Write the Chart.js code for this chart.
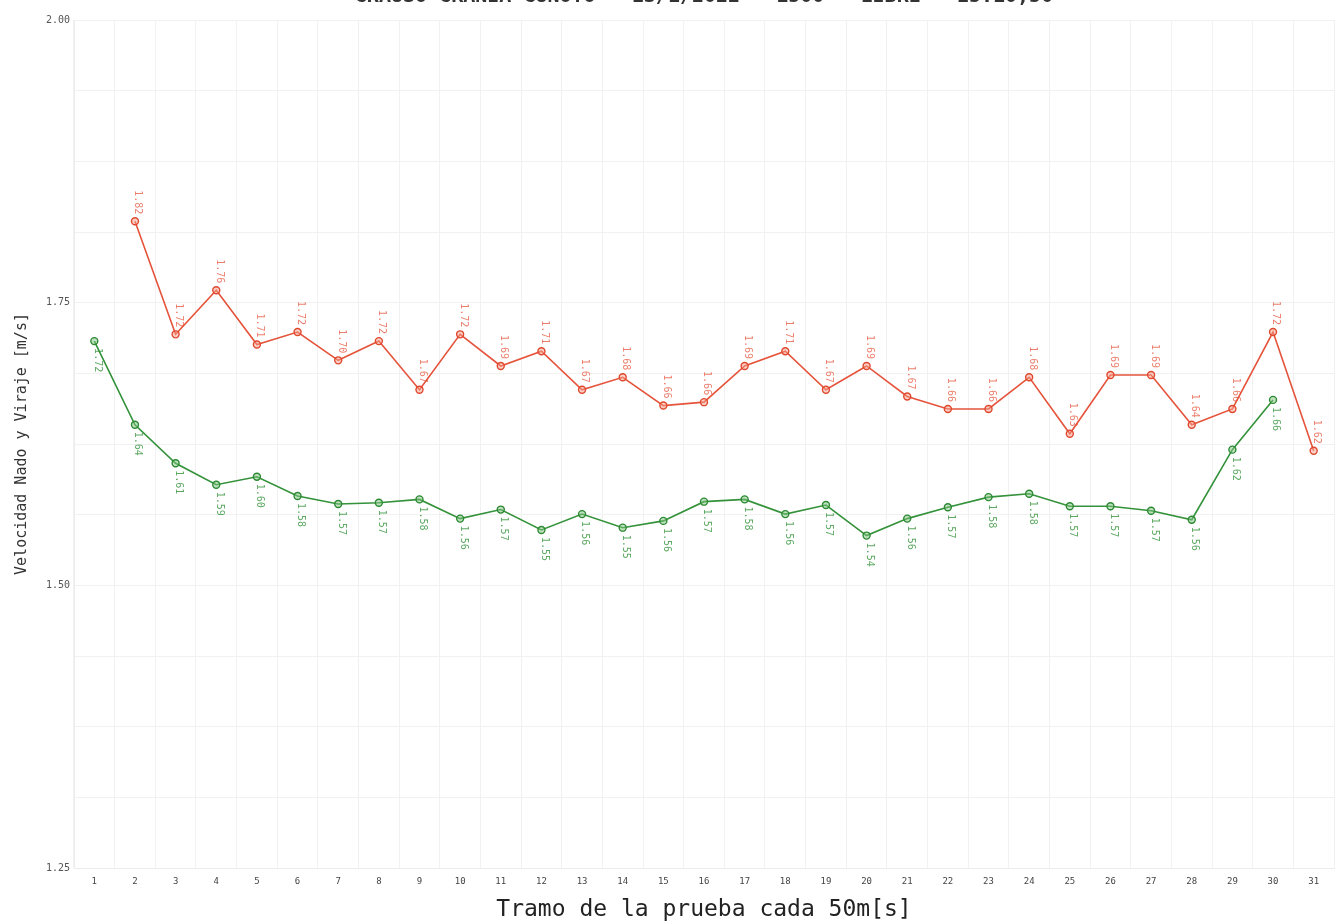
<!DOCTYPE html>
<html>
<head>
<meta charset="utf-8">
<script src="https://cdn.jsdelivr.net/npm/chart.js@4.4.0/dist/chart.umd.min.js"></script>
<style>
    body { margin: 0; background: #fff; }
    #wrap { width: 1344px; height: 922px; overflow: hidden; position: relative; }
    #chart { position: absolute; left: 0; top: -15px; }
</style>
</head>
<body>
<div id="wrap">
    <canvas id="chart" width="1344" height="937"></canvas>
</div>
<script>
// Chart data
const tramos = ['1','2','3','4','5','6','7','8','9','10','11','12','13','14','15','16',
    '17','18','19','20','21','22','23','24','25','26','27','28','29','30','31'];

const velViraje = [null, 1.822, 1.722, 1.761, 1.713, 1.724, 1.699, 1.716, 1.673, 1.722,
    1.694, 1.707, 1.673, 1.684, 1.659, 1.662, 1.694, 1.707, 1.673, 1.694, 1.667, 1.656,
    1.656, 1.684, 1.634, 1.686, 1.686, 1.642, 1.656, 1.724, 1.619];

const velNado = [1.716, 1.642, 1.608, 1.589, 1.596, 1.579, 1.572, 1.573, 1.576, 1.559,
    1.567, 1.549, 1.563, 1.551, 1.557, 1.574, 1.576, 1.563, 1.571, 1.544, 1.559, 1.569,
    1.578, 1.581, 1.570, 1.570, 1.566, 1.558, 1.620, 1.664, null];

const yTicks = [1.25, 1.50, 1.75, 2.00];

const chartTitle = 'GRAUSO GRANIA GUNOTO - 13/1/2022 - 1500 - LIBRE - 15:10,50';
const mono = '"DejaVu Sans Mono", "Liberation Mono", monospace';

// Rotated value labels next to each point
const pointLabels = {
    id: 'pointLabels',
    afterDatasetsDraw(chart) {
        const ctx = chart.ctx;
        chart.data.datasets.forEach((ds, i) => {
            const meta = chart.getDatasetMeta(i);
            const above = ds.labelAbove;
            meta.data.forEach((pt, j) => {
                const v = ds.data[j];
                if (v == null) return;
                ctx.save();
                ctx.translate(pt.x + 3, above ? pt.y - 7 : pt.y + 7);
                ctx.rotate(Math.PI / 2);
                ctx.textAlign = above ? 'right' : 'left';
                ctx.textBaseline = 'middle';
                ctx.font = '10px ' + mono;
                ctx.fillStyle = ds.labelColor;
                ctx.fillText(v.toFixed(2), 0, 0);
                ctx.restore();
            });
        });
    }
};

const ctx = document.getElementById('chart').getContext('2d');
new Chart(ctx, {
    type: 'line',
    data: {
        labels: tramos,
        datasets: [{
            label: 'Viraje',
            data: velViraje,
            borderColor: '#e5533b',
            backgroundColor: 'rgba(245, 160, 140, 0.5)',
            pointBorderColor: '#e0482e',
            labelColor: 'rgba(229, 83, 59, 0.75)',
            labelAbove: true,
            borderWidth: 1.6,
            pointRadius: 3.5,
            pointBorderWidth: 1.4,
            spanGaps: false,
            tension: 0
        }, {
            label: 'Nado',
            data: velNado,
            borderColor: '#33923a',
            backgroundColor: 'rgba(130, 195, 130, 0.5)',
            pointBorderColor: '#2b8a32',
            labelColor: 'rgba(51, 146, 58, 0.8)',
            labelAbove: false,
            borderWidth: 1.6,
            pointRadius: 3.5,
            pointBorderWidth: 1.4,
            spanGaps: false,
            tension: 0
        }]
    },
    options: {
        responsive: false,
        animation: false,
        layout: { padding: { left: 0, right: 10, top: 0, bottom: 0 } },
        plugins: {
            legend: { display: false },
            tooltip: { enabled: false },
            title: {
                display: true,
                text: chartTitle,
                fullSize: false,
                color: '#333',
                font: { family: mono, size: 20, weight: 'bold', lineHeight: 1.2 },
                padding: { top: 0, bottom: 11 }
            }
        },
        scales: {
            x: {
                offset: true,
                grid: { offset: true, color: '#f1f1f1', drawTicks: false },
                border: { color: '#ececec' },
                ticks: { color: '#444', padding: 8, font: { family: mono, size: 9 } },
                title: {
                    display: true,
                    text: 'Tramo de la prueba cada 50m[s]',
                    color: '#222',
                    font: { family: mono, size: 23, lineHeight: 1 },
                    padding: { top: 0, bottom: 0 }
                },
                afterFit(scale) { scale.height = 54; }
            },
            y: {
                min: yTicks[0],
                max: yTicks[yTicks.length - 1],
                grid: { color: '#f1f1f1', drawTicks: false },
                border: { color: '#ececec' },
                ticks: {
                    stepSize: 0.0625,
                    padding: 4,
                    color: '#555',
                    font: { family: mono, size: 10 },
                    callback: function(value) {
                        const hit = yTicks.find(t => Math.abs(t - value) < 1e-6);
                        return hit !== undefined ? hit.toFixed(2) : '';
                    }
                },
                title: {
                    display: true,
                    text: 'Velocidad Nado y Viraje [m/s]',
                    color: '#333',
                    font: { family: mono, size: 15, lineHeight: 1.2 },
                    padding: { top: 13, bottom: 0 }
                },
                afterFit(scale) { scale.width = 74; }
            }
        }
    },
    plugins: [pointLabels]
});
</script>
</body>
</html>
